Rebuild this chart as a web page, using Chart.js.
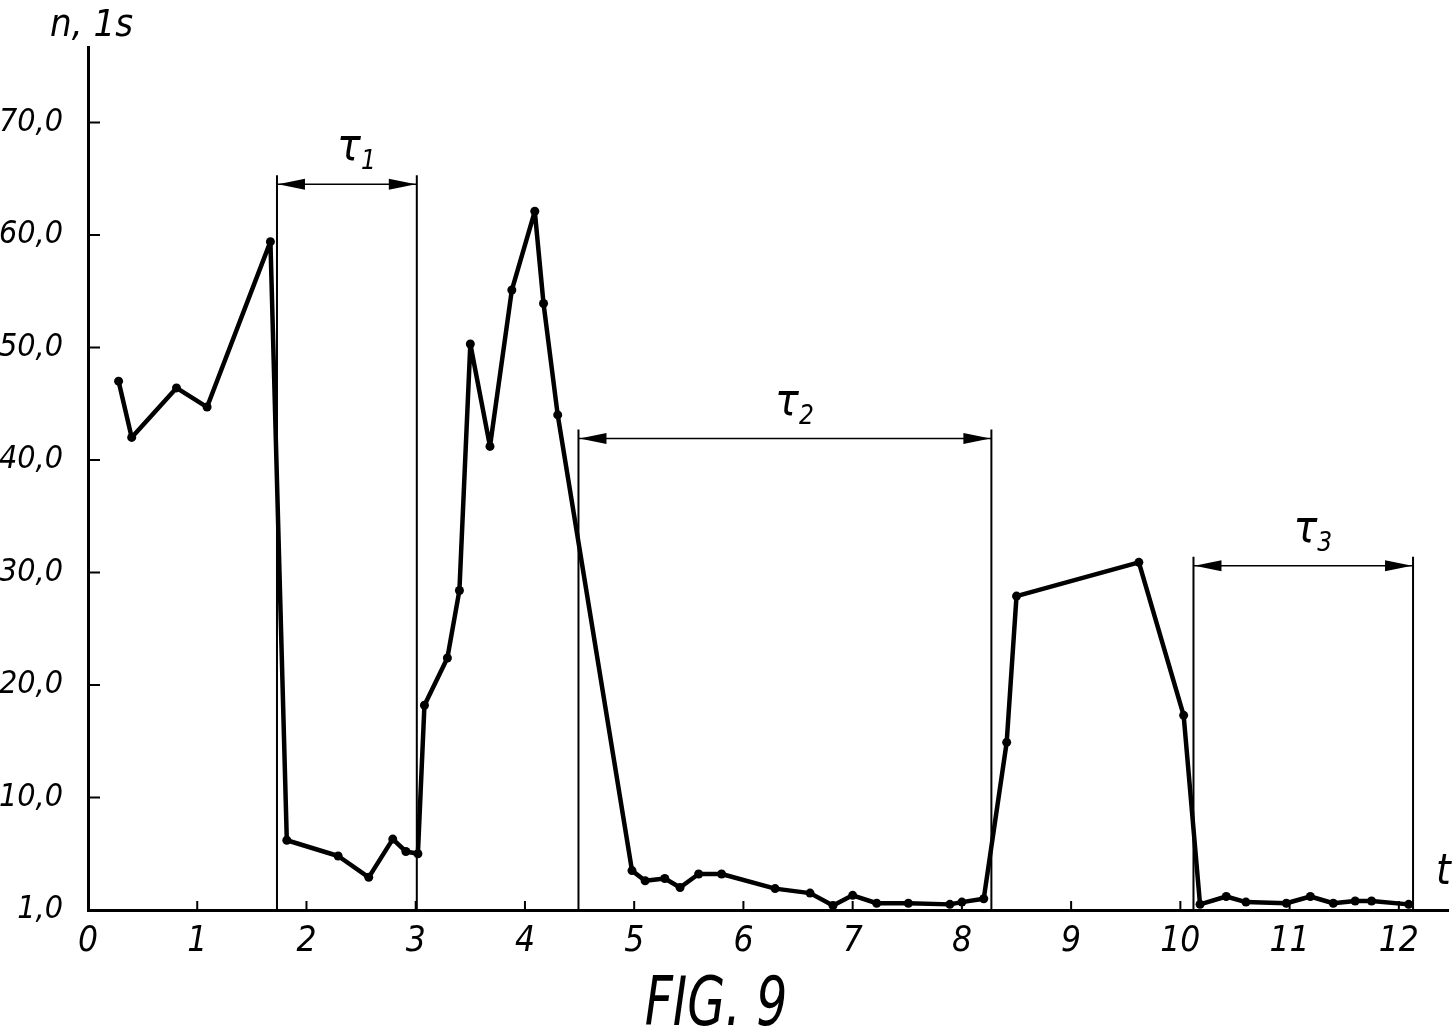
<!DOCTYPE html>
<html>
<head>
<meta charset="utf-8">
<script src="https://cdn.jsdelivr.net/npm/chart.js@4.4.0/dist/chart.umd.min.js"></script>
<style>
  html, body { margin: 0; padding: 0; background: #fff; }
  #wrap { width: 1456px; height: 1028px; }
</style>
</head>
<body>
<div id="wrap"><canvas id="fig9" width="1456" height="1028"></canvas></div>
<script>
// --- data ---
const tValues = [0.28, 0.40, 0.81, 1.09, 1.67, 1.82, 2.29, 2.57, 2.79, 2.91, 3.02,
                 3.08, 3.29, 3.40, 3.50, 3.68, 3.88, 4.09, 4.17, 4.30,
                 4.98, 5.10, 5.28, 5.42, 5.59, 5.80, 6.29, 6.61, 6.82, 7.00, 7.22, 7.51, 7.89, 8.00, 8.20,
                 8.41, 8.50, 9.62, 10.03,
                 10.18, 10.42, 10.60, 10.97, 11.19, 11.40, 11.60, 11.75, 12.09];
const nValues = [47.0, 42.0, 46.4, 44.7, 59.4, 6.2, 4.8, 2.9, 6.3, 5.2, 5.0,
                 18.2, 22.4, 28.4, 50.3, 41.2, 55.1, 62.1, 53.9, 44.0,
                 3.5, 2.6, 2.8, 2.0, 3.2, 3.2, 1.9, 1.5, 0.4, 1.3, 0.6, 0.6, 0.5, 0.7, 1.0,
                 14.9, 27.9, 30.9, 17.3,
                 0.5, 1.2, 0.7, 0.6, 1.2, 0.6, 0.8, 0.8, 0.5];

const xTicks = [0, 1, 2, 3, 4, 5, 6, 7, 8, 9, 10, 11, 12];
const yTicks = [0, 10, 20, 30, 40, 50, 60, 70];
const yTickLabels = ['1,0', '10,0', '20,0', '30,0', '40,0', '50,0', '60,0', '70,0'];

// intervals tau1..tau3 (start, end, level of the dimension arrow)
const tauStart = [1.73, 4.49, 10.12];
const tauEnd   = [3.01, 8.27, 12.13];
const tauLevel = [64.5, 41.9, 30.6];
const tauNames = ['1', '2', '3'];

const FONT = "'DejaVu Sans Condensed', 'Liberation Sans Narrow', 'DejaVu Sans', sans-serif";

// petits traits de graduation vers l'interieur
const inwardTicks = {
  id: 'inwardTicks',
  afterDraw(chart) {
    const { ctx, chartArea: a } = chart;
    const x = chart.scales.x, y = chart.scales.y;
    ctx.save();
    ctx.strokeStyle = '#000';
    ctx.lineWidth = 2;
    ctx.beginPath();
    x.ticks.forEach(tk => {
      if (tk.value === 0) return;
      const px = x.getPixelForValue(tk.value);
      ctx.moveTo(px, a.bottom);
      ctx.lineTo(px, a.bottom - 9);
    });
    y.ticks.forEach(tk => {
      if (tk.value === 0) return;
      const py = y.getPixelForValue(tk.value);
      ctx.moveTo(a.left, py);
      ctx.lineTo(a.left + 12, py);
    });
    ctx.stroke();
    ctx.restore();
  }
};

// cotes tau avec fleches
const tauMarks = {
  id: 'tauMarks',
  beforeDatasetsDraw(chart) {
    const { ctx, chartArea: a } = chart;
    const x = chart.scales.x, y = chart.scales.y;
    ctx.save();
    ctx.strokeStyle = '#000';
    ctx.fillStyle = '#000';
    tauStart.forEach((t0, i) => {
      const xl = x.getPixelForValue(t0);
      const xr = x.getPixelForValue(tauEnd[i]);
      const ya = y.getPixelForValue(tauLevel[i]);
      const top = ya - 9;

      ctx.lineWidth = 2;
      ctx.beginPath();
      ctx.moveTo(xl, top); ctx.lineTo(xl, a.bottom);
      ctx.moveTo(xr, top); ctx.lineTo(xr, a.bottom);
      ctx.stroke();

      ctx.lineWidth = 1.5;
      ctx.beginPath();
      ctx.moveTo(xl, ya); ctx.lineTo(xr, ya);
      ctx.stroke();

      // fleches pleines
      ctx.beginPath();
      ctx.moveTo(xl + 1, ya); ctx.lineTo(xl + 28, ya - 5.5); ctx.lineTo(xl + 28, ya + 5.5); ctx.closePath();
      ctx.moveTo(xr - 1, ya); ctx.lineTo(xr - 28, ya - 5.5); ctx.lineTo(xr - 28, ya + 5.5); ctx.closePath();
      ctx.fill();

      // label
      const cx = (xl + xr) / 2 + 10;
      ctx.font = "italic 44px " + FONT;
      ctx.textAlign = 'right';
      ctx.textBaseline = 'alphabetic';
      ctx.fillText('\u03C4', cx + 4, ya - 24);
      ctx.font = "italic 26px " + FONT;
      ctx.textAlign = 'left';
      ctx.fillText(tauNames[i], cx + 4, ya - 15);
    });
    ctx.restore();
  }
};

// textes libres : titre d'axe et legende de figure
const figTexts = {
  id: 'figTexts',
  afterDraw(chart) {
    const { ctx } = chart;
    ctx.save();
    ctx.fillStyle = '#000';
    ctx.textBaseline = 'alphabetic';
    ctx.textAlign = 'left';
    ctx.font = "italic 38px " + FONT;
    ctx.fillText('n, 1s', 50, 36);
    ctx.font = "italic 42px " + FONT;
    ctx.fillText('t', 1436, 884);
    // legende etroite et haute
    ctx.translate(716, 1025);
    ctx.scale(0.8, 1);
    ctx.textAlign = 'center';
    ctx.font = "italic 68px " + FONT;
    ctx.fillText('FIG. 9', 0, 0);
    ctx.restore();
  }
};

const ctx = document.getElementById('fig9').getContext('2d');

new Chart(ctx, {
  type: 'line',
  data: {
    datasets: [{
      data: tValues.map((t, i) => ({ x: t, y: nValues[i] })),
      borderColor: '#000',
      borderWidth: 4.5,
      borderJoinStyle: 'round',
      borderCapStyle: 'round',
      pointRadius: 4.5,
      pointBackgroundColor: '#000',
      pointBorderWidth: 0,
      tension: 0,
      fill: false,
      clip: false
    }]
  },
  options: {
    responsive: false,
    animation: false,
    layout: { padding: { top: 47, right: 8, left: 0, bottom: 0 } },
    plugins: {
      legend: { display: false },
      tooltip: { enabled: false }
    },
    scales: {
      x: {
        type: 'linear',
        min: 0,
        max: 12.45,
        afterBuildTicks: s => { s.ticks = xTicks.map(v => ({ value: v })); },
        afterFit: s => { s.height = 118; },
        grid: { display: false, drawTicks: false },
        border: { display: true, color: '#000', width: 3 },
        ticks: {
          color: '#000',
          padding: 11,
          autoSkip: false,
          maxRotation: 0,
          font: { family: FONT, size: 35, style: 'italic' },
          callback: v => String(v)
        }
      },
      y: {
        type: 'linear',
        min: 0,
        max: 76.7,
        afterBuildTicks: s => { s.ticks = yTicks.map(v => ({ value: v })); },
        afterFit: s => { s.width = 88; },
        grid: { display: false, drawTicks: false },
        border: { display: true, color: '#000', width: 3 },
        ticks: {
          color: '#000',
          padding: 25,
          font: { family: FONT, size: 32, style: 'italic' },
          callback: v => yTickLabels[yTicks.indexOf(v)]
        }
      }
    }
  },
  plugins: [inwardTicks, tauMarks, figTexts]
});
</script>
</body>
</html>
